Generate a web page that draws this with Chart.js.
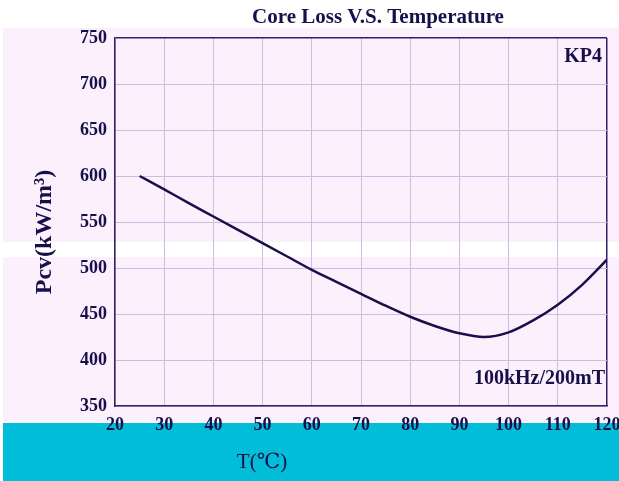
<!DOCTYPE html>
<html>
<head>
<meta charset="utf-8">
<script src="https://cdn.jsdelivr.net/npm/chart.js@4"></script>
<style>
  html, body { margin: 0; padding: 0; background: #ffffff; }
  #grafico { display: block; }
</style>
</head>
<body>
<canvas id="grafico" width="619" height="481"></canvas>
<script>
const temperaturas = [25, 30, 35, 40, 45, 50, 55, 60, 65, 70, 75, 80, 85, 90, 95, 100, 105, 110, 115, 120];
const perdidas = [600, 585.5, 570.5, 556, 541.5, 527, 512.5, 498, 485, 472, 459, 447, 437, 429, 425, 430, 443, 460, 482, 509];
const ticksX = [20, 30, 40, 50, 60, 70, 80, 90, 100, 110, 120];
const ticksY = [350, 400, 450, 500, 550, 600, 650, 700, 750];

const serif = '"Liberation Serif", "DejaVu Serif", serif';
const tinta = '#16104a';
const borde = '#2d2466';
const rejilla = '#cdbde2';

// fondos y textos sueltos del grafico original
const fondos = {
    id: 'fondos',
    beforeDraw(chart) {
        const ctx = chart.ctx;
        ctx.save();
        ctx.fillStyle = '#fcf0fc';
        ctx.fillRect(3, 28, 616, 395);
        ctx.fillStyle = '#ffffff';
        ctx.fillRect(0, 242, 619, 15);
        ctx.fillStyle = '#02bdd7';
        ctx.fillRect(3, 423, 616, 58);
        ctx.restore();
    },
    afterDraw(chart) {
        const ctx = chart.ctx;
        ctx.save();
        ctx.fillStyle = tinta;
        ctx.textBaseline = 'middle';
        ctx.textAlign = 'center';
        ctx.font = 'bold 21px ' + serif;
        ctx.fillText('Core Loss V.S. Temperature', 378, 18);
        ctx.font = '21px ' + serif;
        ctx.fillText('T(℃)', 262, 462);
        ctx.textAlign = 'right';
        ctx.font = 'bold 20px ' + serif;
        ctx.fillText('KP4', 602, 57);
        ctx.fillText('100kHz/200mT', 605, 379);
        ctx.translate(45, 232);
        ctx.rotate(-Math.PI / 2);
        ctx.textAlign = 'center';
        ctx.font = 'bold 24px ' + serif;
        ctx.fillText('Pcv(kW/m³)', 0, 0);
        ctx.restore();
    }
};

const ctx = document.getElementById('grafico').getContext('2d');
new Chart(ctx, {
    type: 'line',
    data: {
        datasets: [{
            data: temperaturas.map((t, i) => ({ x: t, y: perdidas[i] })),
            borderColor: '#1a0f4d',
            borderWidth: 2.5,
            pointRadius: 0,
            cubicInterpolationMode: 'monotone',
            fill: false
        }]
    },
    options: {
        responsive: false,
        animation: false,
        layout: { autoPadding: false, padding: { top: 38, right: 12, left: 0, bottom: 0 } },
        plugins: {
            legend: { display: false },
            title: { display: false },
            tooltip: { enabled: false }
        },
        scales: {
            x: {
                type: 'linear',
                min: 20,
                max: 120,
                afterBuildTicks: s => { s.ticks = ticksX.map(v => ({ value: v })); },
                afterFit: s => { s.height = 75; s.paddingLeft = 0; s.paddingRight = 0; },
                grid: {
                    drawTicks: false,
                    color: c => c.tick && c.tick.value === 120 ? borde : rejilla,
                    lineWidth: c => c.tick && c.tick.value === 120 ? 1.5 : 1
                },
                border: { color: borde, width: 1.5 },
                ticks: { color: tinta, padding: 9, font: { family: serif, size: 18, weight: 'bold' } }
            },
            y: {
                min: 350,
                max: 750,
                afterBuildTicks: s => { s.ticks = ticksY.map(v => ({ value: v })); },
                afterFit: s => { s.width = 115; s.paddingTop = 0; s.paddingBottom = 0; },
                grid: {
                    drawTicks: false,
                    color: c => c.tick && c.tick.value === 750 ? borde : rejilla,
                    lineWidth: c => c.tick && c.tick.value === 750 ? 1.5 : 1
                },
                border: { color: borde, width: 1.5 },
                ticks: { color: tinta, padding: 8, font: { family: serif, size: 18, weight: 'bold' } }
            }
        }
    },
    plugins: [fondos]
});
</script>
</body>
</html>
